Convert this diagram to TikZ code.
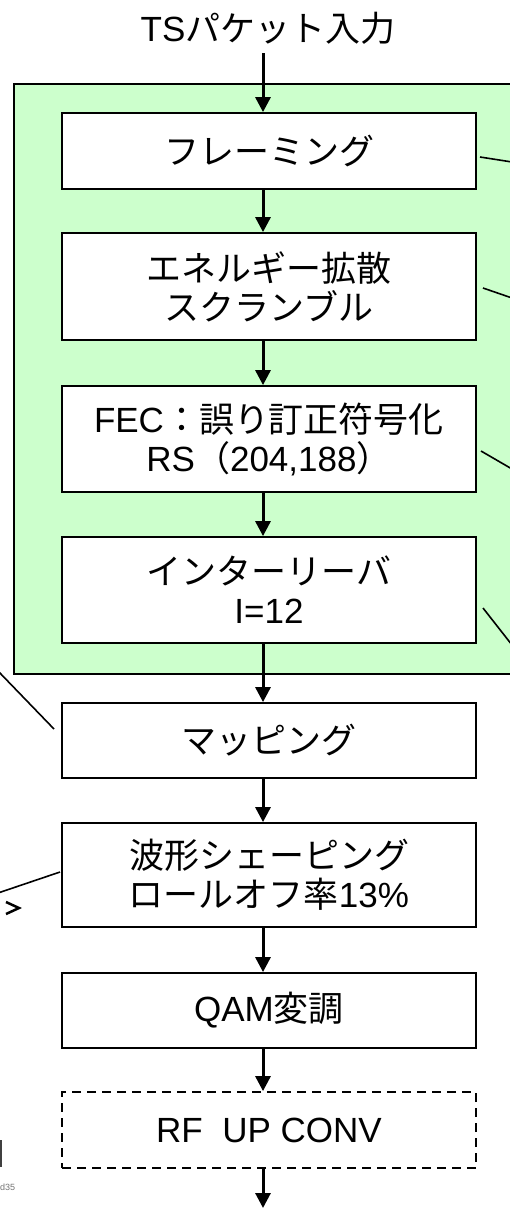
\documentclass[tikz,border=0pt]{standalone}
\usepackage{fontspec}
\setmainfont{Noto Sans CJK JP}
\newfontfamily\lat{Liberation Sans}
\usetikzlibrary{arrows.meta}
\definecolor{lightgreen}{HTML}{CCFFCC}
\begin{document}
\begin{tikzpicture}[x=1pt,y=-1pt,
  blk/.style={draw=black,line width=1.8pt,fill=white,minimum width=414pt,align=center,
     inner sep=0pt,font=\fontsize{35}{39}\selectfont},
  flow/.style={line width=3pt,-{Triangle[length=15pt,width=15pt]}},
  lead/.style={line width=1.6pt},
  ttl/.style={font=\fontsize{35}{39}\selectfont}]
\useasboundingbox (0,0) rectangle (510,1208);
\clip (0,0) rectangle (510,1208);
% green region
\node[draw=black,line width=1.8pt,fill=lightgreen,minimum width=520pt,minimum height=590pt,inner sep=0pt,anchor=north west] (grp) at (13,83) {};
% title
\node[ttl] (title) at (268,28) {{\lat TS}パケット入力};
\coordinate (tstart) at (263,53);
% boxes
\node[blk,minimum height=76pt] (b1) at (269,151) {フレーミング};
\node[blk,minimum height=107pt] (b2) at (269,286.5) {エネルギー拡散\\スクランブル};
\node[blk,minimum height=106pt] (b3) at (269,439) {{\lat FEC}：誤り訂正符号化\\{\lat RS}（{\lat 204,188}）};
\node[blk,minimum height=106pt] (b4) at (269,590) {インターリーバ\\{\lat I=12}};
\node[blk,minimum height=75pt] (b5) at (269,740.5) {マッピング};
\node[blk,minimum height=104pt] (b6) at (269,875) {波形シェーピング\\ロールオフ率{\lat 13\%}};
\node[blk,minimum height=75pt] (b7) at (269,1010.5) {{\lat QAM}変調};
\node[blk,minimum height=76pt,dash pattern=on 9pt off 6pt] (b8) at (269,1130) {{\lat RF\ \ UP CONV}};
\coordinate (out) at (263,1208);
% arrows
\draw[flow] (tstart) -- ([xshift=-6pt]b1.north);
\draw[flow] ([xshift=-6pt]b1.south) -- ([xshift=-6pt]b2.north);
\draw[flow] ([xshift=-6pt]b2.south) -- ([xshift=-6pt]b3.north);
\draw[flow] ([xshift=-6pt]b3.south) -- ([xshift=-6pt]b4.north);
\draw[flow] ([xshift=-6pt]b4.south) -- ([xshift=-6pt]b5.north);
\draw[flow] ([xshift=-6pt]b5.south) -- ([xshift=-6pt]b6.north);
\draw[flow] ([xshift=-6pt]b6.south) -- ([xshift=-6pt]b7.north);
\draw[flow] ([xshift=-6pt]b7.south) -- ([xshift=-6pt]b8.north);
\draw[flow] ([xshift=-6pt]b8.south) -- (out);
% leader lines to the right
\coordinate (r1a) at (480,157); \coordinate (r1b) at (512,162);
\coordinate (r2a) at (483,288); \coordinate (r2b) at (512,298);
\coordinate (r3a) at (481,451); \coordinate (r3b) at (512,469);
\coordinate (r4a) at (483,608); \coordinate (r4b) at (512,645);
\draw[lead] (r1a) -- (r1b);
\draw[lead] (r2a) -- (r2b);
\draw[lead] (r3a) -- (r3b);
\draw[lead] (r4a) -- (r4b);
% leader lines to the left
\coordinate (l1a) at (-2,671); \coordinate (l1b) at (54,729);
\coordinate (l2a) at (-2,893); \coordinate (l2b) at (60,872);
\draw[lead] (l1a) -- (l1b);
\draw[lead] (l2a) -- (l2b);
% fragments at the left edge
\draw[line width=2.5pt,line join=miter] (6,902) -- (19,908) -- (6,914);
\draw[line width=2.5pt,draw=black!75] (1,1140) -- (1,1167);
\node[font=\fontsize{9}{10}\selectfont\lat,text=black!55,anchor=west,inner sep=0pt] (tag) at (0,1187) {d35};
\end{tikzpicture}
\end{document}
